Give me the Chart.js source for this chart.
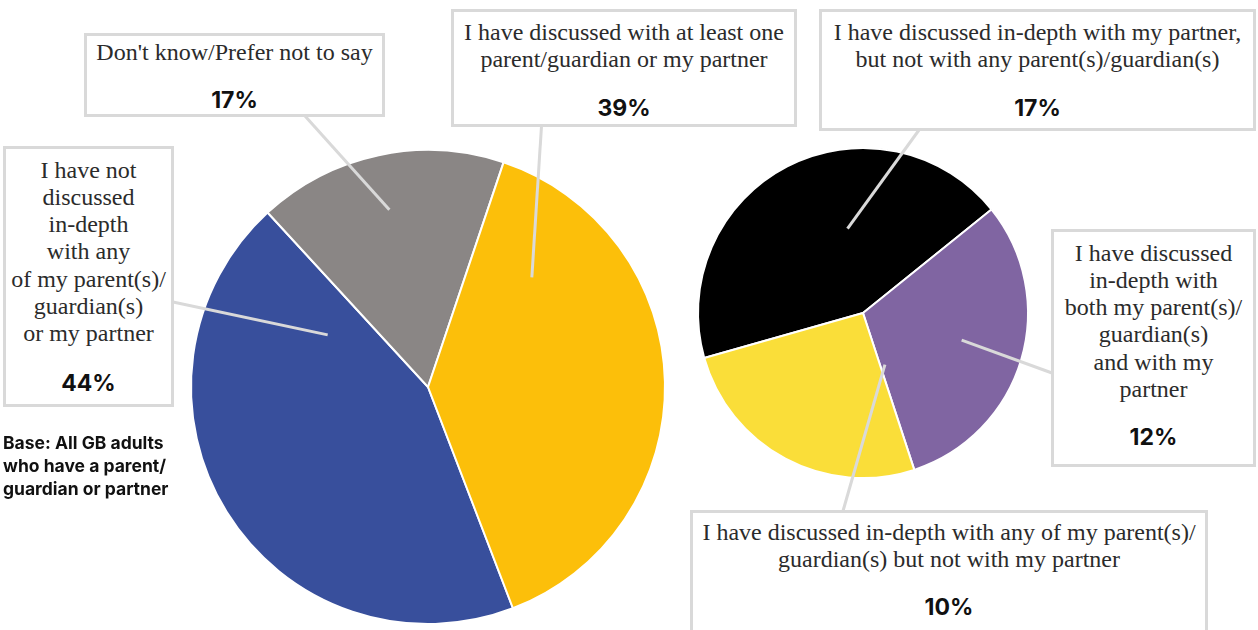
<!DOCTYPE html>
<html lang="en">
<head>
    <meta charset="UTF-8">
    <title>Discussion with parents/guardians and partners</title>
    <style>
        body {
            margin: 0;
            padding: 0;
            background: #fff;
        }

        #wrap {
            position: relative;
            width: 1258px;
            height: 630px;
            overflow: hidden;
        }

        #wrap canvas {
            position: absolute;
            left: 0;
            top: 0;
        }

        .callout {
            position: absolute;
            box-sizing: border-box;
            border: 3px solid #d9d9d9;
            background: #fff;
            text-align: center;
        }

        .callout .label {
            font: 24px/27.3px "Liberation Serif", serif;
            color: #2b2b2b;
            white-space: nowrap;
        }

        .callout .pct {
            font: 700 23px/27px Inter, sans-serif;
            color: #111;
        }

        .base {
            position: absolute;
            left: 3px;
            top: 431px;
            font: 700 17.5px/23px Inter, sans-serif;
            color: #111;
        }
    </style>
    <script src="https://cdn.jsdelivr.net/npm/chart.js"></script>
</head>
<body>
    <div id="wrap">
        <canvas id="mainPie" width="1258" height="630"></canvas>
        <canvas id="splitPie" width="1258" height="630"></canvas>
        <div class="base">Base: All GB adults<br>who have a parent/<br>guardian or partner</div>
    </div>

    <script>
        // Main pie: everyone
        const mainLabels = [
            ['I have not', 'discussed', 'in-depth', 'with any', 'of my parent(s)/', 'guardian(s)', 'or my partner'],
            ["Don't know/Prefer not to say"],
            ['I have discussed with at least one', 'parent/guardian or my partner']
        ];
        const mainValues = [44, 17, 39];
        const mainColors = ['#384f9c', '#8a8685', '#fcbf0a'];

        // Second pie: breakdown of the 39% who have discussed
        const splitLabels = [
            ['I have discussed in-depth with my partner,', 'but not with any parent(s)/guardian(s)'],
            ['I have discussed', 'in-depth with', 'both my parent(s)/', 'guardian(s)', 'and with my', 'partner'],
            ['I have discussed in-depth with any of my parent(s)/', 'guardian(s) but not with my partner']
        ];
        const splitValues = [17, 12, 10];
        const splitColors = ['#000000', '#8065a2', '#fade39'];

        // label boxes: box geometry, where the leader leaves the box,
        // and where it lands inside the slice (fraction of the sweep, fraction of the radius)
        const mainCallouts = [
            { left: 3, top: 146, width: 171, height: 261, padTop: 7.5, gap: 22, ax: 173, ay: 302, along: 0.874, depth: 0.477 },
            { left: 84, top: 33, width: 301, height: 84, padTop: 2.5, gap: 21, ax: 305, ay: 116, along: 0.495, depth: 0.765 },
            { left: 451, top: 9, width: 346, height: 118, padTop: 6.5, gap: 21.5, ax: 541.5, ay: 126, along: 0.177, depth: 0.637 }
        ];
        const splitCallouts = [
            { left: 819, top: 9, width: 437, height: 122, padTop: 6.5, gap: 22, ax: 919, ay: 130, along: 0.608, depth: 0.52 },
            { left: 1051, top: 229, width: 205, height: 238, padTop: 7.5, gap: 21, ax: 1052, ay: 373, along: 0.49, depth: 0.62 },
            { left: 690, top: 510, width: 518, height: 140, padTop: 5.5, gap: 21, ax: 843, ay: 511, along: -0.053, depth: 0.34 }
        ];

        function leaderLines(callouts) {
            return {
                id: 'leaderLines',
                afterDatasetsDraw(chart) {
                    const ctx = chart.ctx;
                    const arcs = chart.getDatasetMeta(0).data;
                    ctx.save();
                    ctx.strokeStyle = '#d9d9d9';
                    ctx.lineWidth = 3;
                    callouts.forEach((c, i) => {
                        const p = arcs[i].getProps(['x', 'y', 'startAngle', 'endAngle', 'outerRadius'], true);
                        const a = p.startAngle + c.along * (p.endAngle - p.startAngle);
                        const r = c.depth * p.outerRadius;
                        ctx.beginPath();
                        ctx.moveTo(c.ax, c.ay);
                        ctx.lineTo(p.x + r * Math.cos(a), p.y + r * Math.sin(a));
                        ctx.stroke();
                    });
                    ctx.restore();
                }
            };
        }

        function makePie(id, labels, values, colors, callouts, radius, rotation, padding) {
            return new Chart(document.getElementById(id), {
                type: 'pie',
                data: {
                    labels: labels,
                    datasets: [{
                        data: values,
                        backgroundColor: colors,
                        borderColor: '#ffffff',
                        borderWidth: 2
                    }]
                },
                options: {
                    responsive: false,
                    animation: false,
                    events: [],
                    radius: radius,
                    rotation: rotation,
                    layout: { padding: padding },
                    plugins: {
                        legend: { display: false },
                        tooltip: { enabled: false }
                    }
                },
                plugins: [leaderLines(callouts)]
            });
        }

        function addBoxes(labels, values, callouts) {
            const wrap = document.getElementById('wrap');
            callouts.forEach((c, i) => {
                const box = document.createElement('div');
                box.className = 'callout';
                box.style.left = c.left + 'px';
                box.style.top = c.top + 'px';
                box.style.width = c.width + 'px';
                box.style.height = c.height + 'px';
                box.style.paddingTop = c.padTop + 'px';

                const label = document.createElement('div');
                label.className = 'label';
                labels[i].forEach(line => {
                    const row = document.createElement('div');
                    row.textContent = line;
                    label.appendChild(row);
                });

                const pct = document.createElement('div');
                pct.className = 'pct';
                pct.style.marginTop = c.gap + 'px';
                pct.textContent = values[i] + '%';

                box.appendChild(label);
                box.appendChild(pct);
                wrap.appendChild(box);
            });
        }

        makePie('mainPie', mainLabels, mainValues, mainColors, mainCallouts, 237, 159,
            { left: 188, right: 590, top: 147, bottom: 3 });
        makePie('splitPie', splitLabels, splitValues, splitColors, splitCallouts, 165, 254.2,
            { left: 693, right: 225, top: 143, bottom: 147 });

        addBoxes(mainLabels, mainValues, mainCallouts);
        addBoxes(splitLabels, splitValues, splitCallouts);
    </script>
</body>
</html>
